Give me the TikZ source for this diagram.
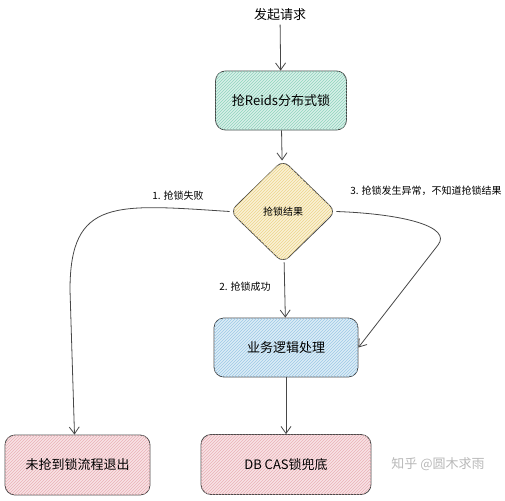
\documentclass[tikz,border=0pt]{standalone}
\usepackage{fontspec}
\setmainfont{Noto Sans CJK SC}
\usepackage{xcolor}
\usetikzlibrary{
    arrows.meta,
    patterns,
    shapes.geometric,
    positioning
}
\definecolor{lockc}{HTML}{8FD3BD}
\definecolor{decc}{HTML}{EED68A}
\definecolor{bizc}{HTML}{9CC8E6}
\definecolor{endc}{HTML}{EAB0B6}

\begin{document}
\begin{tikzpicture}[x=1pt, y=-1pt,
    >={Straight Barb[length=7pt,width=10pt]},
    line/.style={draw=black!72, line width=0.8pt},
    box/.style={line, rounded corners=10pt, fill=#1!35,
        postaction={pattern=north east lines, pattern color=#1},
        font=\fontsize{13}{15}\selectfont},
    lbl/.style={font=\fontsize{10}{12}\selectfont}
    ]
                        \useasboundingbox (0,0) rectangle (505,500);

                        \node[font=\fontsize{13}{15}\selectfont] (req) at (280, 15) {发起请求};
                        \node[box=lockc, minimum width=131pt, minimum height=59pt] (lock) at (281, 100.5) {抢Reids分布式锁};
                        \node[line, diamond, rounded corners=8pt, fill=decc!35, postaction={pattern=north east lines, pattern color=decc}, minimum width=106pt, minimum height=103pt, inner sep=0pt, lbl] (res) at (283, 211.5) {抢锁结果};
                        \node[box=bizc, minimum width=144pt, minimum height=59pt] (biz) at (286, 347.5) {业务逻辑处理};
                        \node[box=endc, minimum width=145pt, minimum height=60pt] (exit) at (77.5, 465) {未抢到锁流程退出};
                        \node[box=endc, minimum width=170pt, minimum height=60pt] (db) at (286, 464.5) {DB CAS锁兜底};

                        \node[lbl] (l1) at (178, 196) {1. 抢锁失败};
                        \node[lbl] (l2) at (245, 287) {2. 抢锁成功};
                        \node[lbl] (l3) at (426, 191) {3. 抢锁发生异常，不知道抢锁结果};
                        \node[text=black!28, font=\fontsize{13}{15}\selectfont] (wm) at (438, 464) {知乎 @圆木求雨};

                        \draw[line]
                        (req) edge[->] (lock)
                        (lock) edge[->] (res)
                        (res) edge[->] (biz)
                        (biz) edge[->] (db);
                        \draw[line, ->] (res.west) .. controls (115, 204) and (70, 198) .. (70, 290) -- ([xshift=-3pt]exit.north);
                        \draw[line, ->] (res.east) .. controls (405, 214) and (452, 227) .. (438, 245) -- (biz.east);
                    \end{tikzpicture}
\end{document}
